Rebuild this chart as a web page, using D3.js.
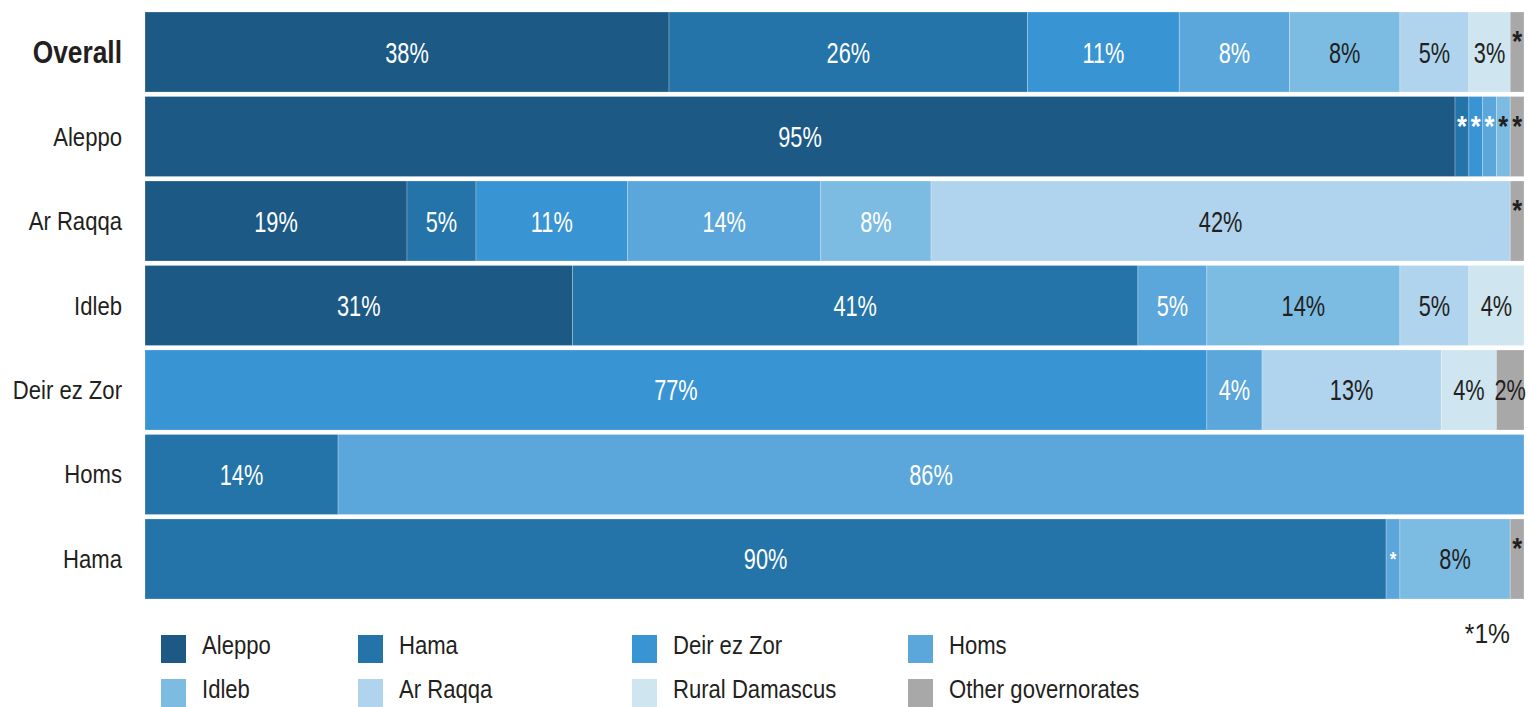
<!DOCTYPE html>
<html>
<head>
<meta charset="utf-8">
<script src="https://cdn.jsdelivr.net/npm/d3@7"></script>
<style>
  html, body { margin: 0; padding: 0; background: #fff; }
  svg { display: block; font-family: "Liberation Sans", Arial, sans-serif; }
</style>
</head>
<body>
<svg id="chart" width="1528" height="707"></svg>
<script>
// ---- data (percent of respondents by governorate of origin) ----
const categories = ['Overall', 'Aleppo', 'Ar Raqqa', 'Idleb', 'Deir ez Zor', 'Homs', 'Hama'];
const seriesNames = ['Aleppo', 'Hama', 'Deir ez Zor', 'Homs', 'Idleb', 'Ar Raqqa', 'Rural Damascus', 'Other governorates'];

const aleppo        = [38, 95, 19, 31,  0,  0,  0];
const hama          = [26,  1,  5, 41,  0, 14, 90];
const deirEzZor     = [11,  1, 11,  0, 77,  0,  0];
const homs          = [ 8,  1, 14,  5,  4, 86,  1];
const idleb         = [ 8,  1,  8, 14,  0,  0,  8];
const arRaqqa       = [ 5,  0, 42,  5, 13,  0,  0];
const ruralDamascus = [ 3,  0,  0,  4,  4,  0,  0];
const other         = [ 1,  1,  1,  0,  2,  0,  1];

const seriesValues = [aleppo, hama, deirEzZor, homs, idleb, arRaqqa, ruralDamascus, other];
const colors = ['#1c5a85', '#2473a9', '#3994d3', '#5ba6da', '#7cbce2', '#b0d4ee', '#cfe5ef', '#a8a8a9'];

// cells whose label is white although the series normally gets dark text
const whiteLabelCells = [['Ar Raqqa', 'Idleb']];

// ---- layout ----
const svg = d3.select('#chart');
const DARK = '#231f20';

// the original uses a condensed face; squeeze the installed sans horizontally
function narrowText(parent, px, py, sx, str) {
  return parent.append('text')
    .attr('transform', `translate(${px},${py}) scale(${sx},1)`)
    .text(str);
}

const rows = categories.map((c, i) => {
  const r = { category: c };
  seriesNames.forEach((s, j) => { r[s] = seriesValues[j][i]; });
  return r;
});

const stacked = d3.stack().keys(seriesNames)(rows);

const x = d3.scaleLinear().domain([0, 100]).range([145, 1524]);
const y = d3.scaleBand().domain(categories).range([12, 599]).paddingInner(0.053).paddingOuter(0);
const color = d3.scaleOrdinal().domain(seriesNames).range(colors);

// ---- bars ----
const layers = svg.append('g').attr('class', 'layers')
  .selectAll('g')
  .data(stacked)
  .join('g')
    .attr('fill', d => color(d.key));

layers.selectAll('rect')
  .data(d => d.filter(p => p[1] - p[0] > 0))
  .join('rect')
    .attr('x', d => x(d[0]))
    .attr('y', d => y(d.data.category))
    .attr('width', d => x(d[1]) - x(d[0]))
    .attr('height', y.bandwidth())
    .attr('stroke', 'rgba(255,255,255,0.3)')
    .attr('stroke-width', 0.8);

// ---- segment labels ----
function labelColor(key, cat, i) {
  if (whiteLabelCells.some(([c, k]) => c === cat && k === key)) return '#fff';
  return i < 4 ? '#fff' : DARK;
}

const labelG = svg.append('g').attr('class', 'labels').attr('text-anchor', 'middle');
stacked.forEach((layer, i) => {
  layer.forEach(p => {
    const v = p[1] - p[0];
    if (v <= 0) return;
    const cat = p.data.category;
    const cx = (x(p[0]) + x(p[1])) / 2;
    const cy = y(cat) + y.bandwidth() / 2;
    if (v >= 2) {
      narrowText(labelG, cx, cy + 10.5, 0.75, v + '%')
        .attr('font-size', 29)
        .attr('fill', labelColor(layer.key, cat, i));
    } else {
      // 1% cells are marked with an asterisk
      const small = cat === 'Hama' && layer.key === 'Homs';
      narrowText(labelG, cx, cy + (small ? 7 : -1), 0.85, '*')
        .attr('font-size', small ? 20 : 30)
        .attr('font-weight', 'bold')
        .attr('fill', labelColor(layer.key, cat, i));
    }
  });
});

// ---- category labels ----
const catG = svg.append('g').attr('class', 'cats').attr('text-anchor', 'end').attr('fill', DARK);
categories.forEach(c => {
  const bold = c === 'Overall';
  narrowText(catG, 122, y(c) + y.bandwidth() / 2 + (bold ? 11 : 9), 0.85, c)
    .attr('font-size', bold ? 31 : 26)
    .attr('font-weight', bold ? 'bold' : 'normal');
});

// ---- legend ----
const legendX = [161, 358, 632, 908];
const legendY = [635, 679];
const legend = svg.append('g').attr('class', 'legend')
  .selectAll('g')
  .data(seriesNames)
  .join('g')
    .attr('transform', (d, i) => `translate(${legendX[i % 4]},${legendY[Math.floor(i / 4)]})`);

legend.append('rect')
  .attr('width', 25).attr('height', 28)
  .attr('fill', d => color(d));

legend.each(function (d) {
  narrowText(d3.select(this), 41, 19, 0.85, d)
    .attr('font-size', 26)
    .attr('fill', DARK);
});

// footnote
narrowText(svg, 1510, 643, 0.88, '*1%')
  .attr('text-anchor', 'end')
  .attr('font-size', 28)
  .attr('fill', DARK);
</script>
</body>
</html>
